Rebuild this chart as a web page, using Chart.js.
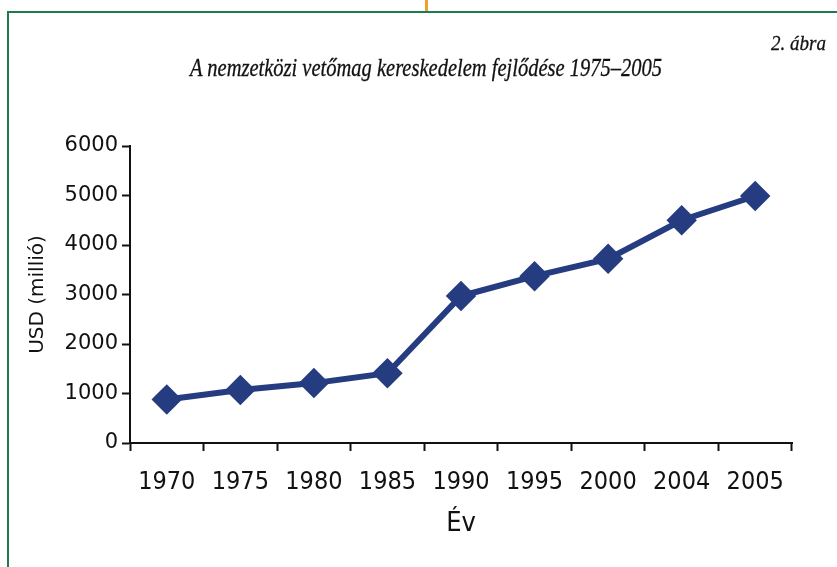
<!DOCTYPE html>
<html>
<head>
<meta charset="utf-8">
<script src="https://cdn.jsdelivr.net/npm/chart.js@4"></script>
<style>
  html, body { margin: 0; padding: 0; background: #fff; }
  #wrap { position: relative; width: 837px; height: 567px; overflow: hidden; }
  #chart { position: absolute; left: 0; top: 0; }
  /* green frame and the orange marker at the top */
  .frame-top { position: absolute; left: 7px; top: 11px; width: 840px; height: 2px; background: #1f7a4d; }
  .frame-left { position: absolute; left: 7px; top: 11px; width: 2px; height: 560px; background: #1f7a4d; }
  .orange { position: absolute; left: 425px; top: 0; width: 3px; height: 11px; background: #f0a030; }
  .serif { position: absolute; white-space: nowrap; font-family: "Liberation Serif", serif; font-style: italic;
           font-weight: normal; color: #111; transform-origin: 0 0; -webkit-text-stroke: 0.3px #111; }
  .fig-no { left: 771px; top: 32px; font-size: 22px; line-height: 22px; }
  .title { left: 190px; top: 55px; font-size: 26px; line-height: 26px; }
</style>
</head>
<body>
<div id="wrap">
  <canvas id="chart" width="837" height="567"></canvas>
  <div class="frame-top"></div>
  <div class="frame-left"></div>
  <div class="orange"></div>
  <div class="serif fig-no" data-w="55">2. ábra</div>
  <div class="serif title" data-w="472">A nemzetközi vetőmag kereskedelem fejlődése 1975–2005</div>
</div>
<script>
// years on the x axis
const years = ['1970', '1975', '1980', '1985', '1990', '1995', '2000', '2004', '2005'];
// trade value, million USD
const usdMillion = [880, 1070, 1210, 1410, 2970, 3370, 3720, 4500, 4990];
// y axis ticks
const yTicks = [0, 1000, 2000, 3000, 4000, 5000, 6000];

const lineColor = '#253d80';
const narrowFont = '"Liberation Sans Narrow", "DejaVu Sans Condensed", sans-serif';

// squeeze the condensed serif headings to the width they have in the print
document.querySelectorAll('.serif').forEach(el => {
  const w = el.getBoundingClientRect().width;
  el.style.transform = 'scaleX(' + (Number(el.dataset.w) / w) + ')';
});

const ctx = document.getElementById('chart').getContext('2d');
const chart = new Chart(ctx, {
  type: 'line',
  data: {
    labels: years,
    datasets: [{
      label: 'USD (millió)',
      data: usdMillion,
      borderColor: lineColor,
      backgroundColor: lineColor,
      borderWidth: 6,
      pointStyle: 'rectRot',
      pointRadius: 11,
      pointHoverRadius: 11,
      fill: false,
      tension: 0
    }]
  },
  options: {
    responsive: false,
    animation: false,
    devicePixelRatio: 1,
    layout: { padding: { top: 146, right: 45, left: 0, bottom: 0 } },
    plugins: {
      legend: { display: false },
      tooltip: { enabled: false }
    },
    scales: {
      x: {
        offset: true,
        grid: {
          offset: true,
          drawOnChartArea: false,
          drawTicks: true,
          tickLength: 8,
          tickWidth: 2,
          tickColor: '#111'
        },
        border: { display: true, color: '#111', width: 2 },
        ticks: {
          color: '#111',
          padding: 16,
          maxRotation: 0,
          font: { family: narrowFont, size: 25 }
        },
        title: {
          display: true,
          text: 'Év',
          color: '#111',
          font: { family: narrowFont, size: 27 },
          padding: { top: 0, bottom: 27 }
        },
        afterFit: function(scale) { scale.height = 124; }
      },
      y: {
        min: 0,
        max: 6000,
        afterBuildTicks: function(scale) {
          scale.ticks = yTicks.map(v => ({ value: v }));
        },
        grid: {
          drawOnChartArea: false,
          drawTicks: true,
          tickLength: 8,
          tickWidth: 2,
          tickColor: '#111'
        },
        border: { display: true, color: '#111', width: 2 },
        ticks: {
          color: '#111',
          padding: 4,
          font: { family: '"DejaVu Sans", sans-serif', size: 21 },
          callback: function(value) { return String(value); }
        },
        title: {
          display: true,
          text: 'USD (millió)',
          color: '#111',
          font: { family: '"DejaVu Sans", sans-serif', size: 20 },
          padding: { top: 26, bottom: 0 }
        },
        afterFit: function(scale) { scale.width = 130; }
      }
    }
  }
});
</script>
</body>
</html>
